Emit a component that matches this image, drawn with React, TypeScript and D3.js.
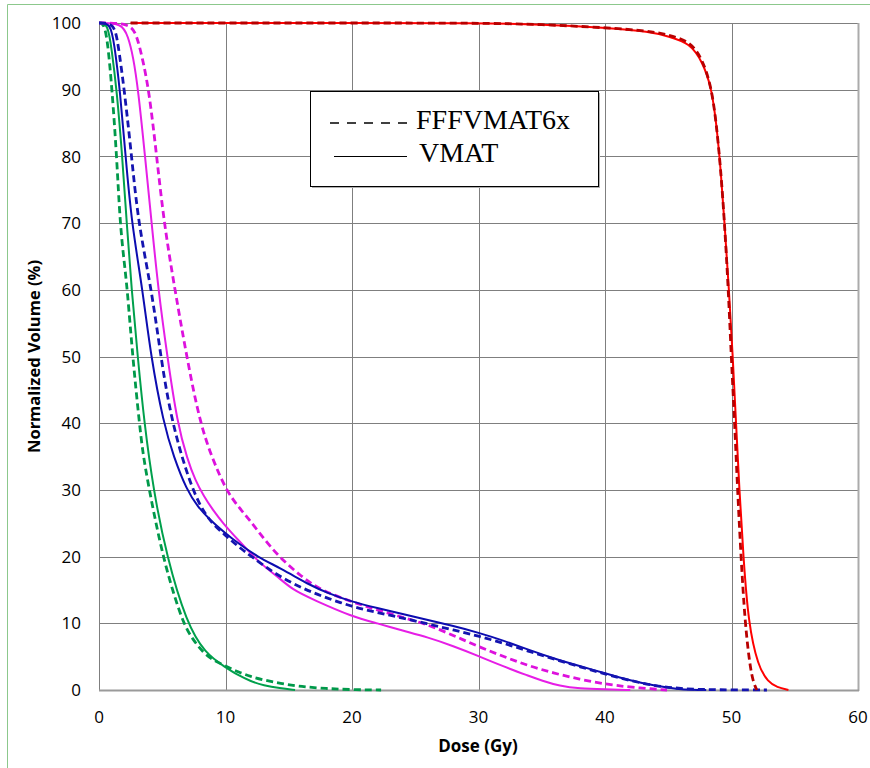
import React from 'react';
import * as d3 from 'd3';

// dose (Gy) / normalized volume (%) pairs
const greenFffDose = [0, 0.4, 0.7, 1.03, 1.4, 1.66, 2.0, 2.24, 2.66, 3.19, 3.5, 3.98, 4.5, 5.08, 5.8, 6.67, 7.4, 8.25, 9.0, 10, 11, 12, 13, 14.3, 16, 18, 20, 22.3];
const greenFffVol = [100, 100, 97, 90, 80, 70, 64, 60, 50, 40, 35, 30, 25, 20, 15, 10, 7.6, 5.6, 4.5, 3.6, 2.7, 2.0, 1.5, 1.0, 0.5, 0.2, 0.05, 0];

const greenVmatDose = [0, 0.7, 1.0, 1.4, 1.84, 2.19, 2.58, 3.06, 3.58, 4.3, 5.35, 6.93, 8.38, 10, 11, 12, 13, 14.3, 15.5];
const greenVmatVol = [100, 100, 96, 90, 80, 70, 60, 50, 40, 30, 20, 10, 5.5, 3.4, 2.2, 1.3, 0.7, 0.25, 0];

const blueFffDose = [0, 1.2, 1.5, 2.0, 2.58, 3.1, 4.16, 4.88, 5.75, 7.33, 8.6, 10, 11, 12.07, 14, 16.1, 18, 20, 22, 24, 26, 28, 30, 32, 34, 36, 38, 40, 42, 44, 46, 48, 50, 52.8];
const blueFffVol = [100, 100, 97, 90, 80, 70, 60, 50, 40, 30, 25.5, 23.2, 21.5, 20, 17.3, 15.2, 13.8, 12.5, 11.6, 10.8, 9.9, 9.0, 8.1, 7.0, 5.8, 4.6, 3.5, 2.4, 1.4, 0.6, 0.2, 0.05, 0.02, 0];

const blueVmatDose = [0, 0.9, 1.2, 1.66, 2.1, 2.58, 3.45, 4.1, 5.1, 5.9, 6.93, 7.8, 8.77, 10, 11, 12.5, 14.3, 16.9, 18, 20, 22, 24, 26, 28, 30, 32, 34, 36, 38, 40, 42, 44, 45.7, 47, 48];
const blueVmatVol = [100, 100, 97, 90, 80, 70, 60, 50, 40, 35, 30, 27.5, 25.5, 23.5, 22, 20, 18.3, 15.5, 14.6, 13.2, 12.3, 11.4, 10.5, 9.6, 8.6, 7.4, 6.0, 4.7, 3.6, 2.5, 1.4, 0.6, 0.15, 0.03, 0];

const magentaFffDose = [0, 2.5, 3.0, 3.4, 3.95, 4.56, 5.14, 6.0, 6.93, 7.98, 9.0, 10.04, 11.0, 11.9, 12.9, 14.2, 16, 17.5, 20, 22, 24, 26, 28, 30, 32, 34, 36, 38, 40, 42, 44.9];
const magentaFffVol = [100, 100, 98, 95, 90, 80, 70, 60, 50, 40, 34.5, 30, 27.5, 25.5, 23, 20, 17, 15, 13.2, 12.0, 10.9, 9.8, 8.2, 6.5, 5.0, 3.6, 2.5, 1.6, 0.9, 0.4, 0];

const magentaVmatDose = [0, 1.8, 2.3, 2.7, 3.1, 3.64, 4.16, 4.69, 5.4, 6.19, 7.0, 7.6, 8.3, 9.0, 9.8, 11, 12.7, 14, 15.3, 17, 20, 22, 24, 26, 28, 30, 32, 34, 35, 36.4, 38, 40, 42];
const magentaVmatVol = [100, 100, 98, 95, 90, 80, 70, 60, 50, 40, 34.5, 31.5, 29, 27, 25, 22.5, 19, 17.2, 15, 13.5, 11, 10, 8.9, 7.9, 6.6, 5.1, 3.5, 2.1, 1.4, 0.6, 0.2, 0.1, 0];

const redFffDose = [2.5, 10, 20, 30, 35, 40, 43.6, 45, 46.7, 47.7, 48.4, 48.8, 49.15, 49.45, 49.75, 49.98, 50.25, 50.48, 50.75, 51.07, 51.46, 51.75, 52.0];
const redFffVol = [100, 100, 100, 100, 99.8, 99.3, 98.8, 98.2, 97.3, 94.6, 90.5, 85, 78, 70, 60, 50, 40, 30, 20, 10, 3.5, 1.0, 0];

const redVmatDose = [2.5, 10, 20, 30, 35, 40, 43.6, 45, 46.7, 47.7, 48.4, 48.8, 49.15, 49.45, 49.8, 50.1, 50.36, 50.62, 50.94, 51.33, 52.1, 52.9, 53.6, 54.5];
const redVmatVol = [100, 100, 100, 100, 99.8, 99.3, 98.7, 98.0, 97, 94.2, 90.5, 85, 78, 70, 60, 50, 40, 30, 20, 10, 3.5, 1.2, 0.4, 0];

const xTicks = [0, 10, 20, 30, 40, 50, 60];
const yTicks = [0, 10, 20, 30, 40, 50, 60, 70, 80, 90, 100];

const legendLabels = ['FFFVMAT6x', 'VMAT'];

type Series = { dose: number[]; vol: number[]; color: string; dashed: boolean };

// drawing order: later ones sit on top
const series: Series[] = [
  { dose: greenVmatDose, vol: greenVmatVol, color: '#00A04C', dashed: false },
  { dose: greenFffDose, vol: greenFffVol, color: '#00994A', dashed: true },
  { dose: magentaVmatDose, vol: magentaVmatVol, color: '#E61EE6', dashed: false },
  { dose: magentaFffDose, vol: magentaFffVol, color: '#DD11DD', dashed: true },
  { dose: blueVmatDose, vol: blueVmatVol, color: '#0C0CB0', dashed: false },
  { dose: blueFffDose, vol: blueFffVol, color: '#1414B0', dashed: true },
  { dose: redVmatDose, vol: redVmatVol, color: '#FF0000', dashed: false },
  { dose: redFffDose, vol: redFffVol, color: '#B80000', dashed: true },
];

const W = 870;
const H = 768;
const left = 99;
const right = 858;
const top = 23;
const bottom = 690;

const App = () => {
  const x = d3.scaleLinear().domain([0, 60]).range([left, right]);
  const y = d3.scaleLinear().domain([0, 100]).range([bottom, top]);

  // b-spline smooths out the reading noise in the points
  const line = d3
    .line<[number, number]>()
    .x((d) => x(d[0]))
    .y((d) => y(d[1]))
    .curve(d3.curveBasis);

  const tickFont = "'Open Sans', sans-serif";

  return (
    <div style={{ position: 'absolute', left: 0, top: 0 }}>
      <svg width={W} height={H} style={{ display: 'block', background: '#fff' }}>
        {/* outer frame */}
        <line x1={7.5} y1={4.5} x2={W} y2={4.5} stroke="#8CC88C" strokeWidth={1} />
        <line x1={7.5} y1={4.5} x2={7.5} y2={H} stroke="#8CC88C" strokeWidth={1} />

        {/* grid */}
        <g>
          {xTicks.map((t) => (
            <line key={'gx' + t} x1={Math.round(x(t)) + 0.5} x2={Math.round(x(t)) + 0.5} y1={top} y2={bottom}
              stroke="#7F7F7F" strokeWidth={1} />
          ))}
          {yTicks.map((t) => (
            <line key={'gy' + t} x1={left} x2={right} y1={Math.round(y(t)) + 0.5} y2={Math.round(y(t)) + 0.5}
              stroke="#7F7F7F" strokeWidth={1} />
          ))}
          <line x1={right + 0.5} x2={right + 0.5} y1={top} y2={bottom + 1} stroke="#ABABAB" strokeWidth={2} />
          <line x1={left} x2={right + 1} y1={bottom + 0.5} y2={bottom + 0.5} stroke="#9A9A9A" strokeWidth={2} />
        </g>

        {/* tick labels */}
        <g fontFamily={tickFont} fontSize={17} fill="#000">
          {yTicks.map((t) => (
            <text key={'ty' + t} x={81} y={y(t)} dy="0.36em" textAnchor="end">{t}</text>
          ))}
          {xTicks.map((t) => (
            <text key={'tx' + t} x={x(t)} y={723} textAnchor="middle">{t}</text>
          ))}
        </g>

        {/* axis titles */}
        <text x={478} y={752} textAnchor="middle" fontFamily={tickFont} fontWeight="bold" fontSize={17}>Dose (Gy)</text>
        <text transform={`translate(40, ${(top + bottom) / 2}) rotate(-90)`} textAnchor="middle"
          fontFamily={tickFont} fontWeight="bold" fontSize={16.5}>Normalized Volume (%)</text>

        {/* curves */}
        <g fill="none" strokeLinejoin="round">
          {series.map((s, i) => (
            <path key={'s' + i}
              d={line(s.dose.map((d, j) => [d, s.vol[j]] as [number, number])) || ''}
              stroke={s.color}
              strokeWidth={s.dashed ? 2.8 : 2}
              strokeDasharray={s.dashed ? '7,4' : undefined} />
          ))}
        </g>

        {/* legend */}
        <g>
          <rect x={312} y={93} width={288} height={95} fill="#B0B0B0" />
          <rect x={310.5} y={91.5} width={288} height={95} fill="#fff" stroke="#000" strokeWidth={1} />
          <line x1={330} x2={407} y1={123} y2={123} stroke="#000" strokeWidth={1.6} strokeDasharray="9,8" />
          <line x1={334} x2={407} y1={156.5} y2={156.5} stroke="#000" strokeWidth={1} />
          <text x={416} y={129} fontFamily="'Liberation Serif', 'Times New Roman', serif" fontSize={28}>{legendLabels[0]}</text>
          <text x={419} y={162} fontFamily="'Liberation Serif', 'Times New Roman', serif" fontSize={28}>{legendLabels[1]}</text>
        </g>
      </svg>
    </div>
  );
};

export default App;
